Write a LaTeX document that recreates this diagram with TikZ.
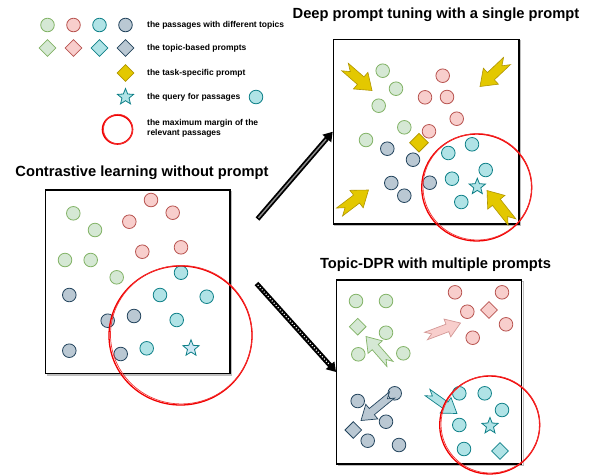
\documentclass[tikz,border=0pt]{standalone}
\usepackage{fontspec}
\setmainfont{Liberation Sans}
\usetikzlibrary{shapes.geometric,arrows.meta,calc}
\definecolor{gfill}{HTML}{D5E8D4}\definecolor{gline}{HTML}{82B366}
\definecolor{rfill}{HTML}{F8CECC}\definecolor{rline}{HTML}{B85450}
\definecolor{cfill}{HTML}{B0E3E6}\definecolor{cline}{HTML}{0E8088}
\definecolor{dfill}{HTML}{BAC8D3}\definecolor{dline}{HTML}{23445D}
\definecolor{goldf}{HTML}{E3C800}\definecolor{goldl}{HTML}{B09500}
\definecolor{starf}{HTML}{CFE8F5}
\definecolor{mred}{HTML}{F00000}
\tikzset{
  pc/.style={circle,minimum size=13.6pt,inner sep=0pt,line width=0.8pt},
  gc/.style={pc,draw=gline,fill=gfill},
  rc/.style={pc,draw=rline,fill=rfill},
  cc/.style={pc,draw=cline,fill=cfill},
  dc/.style={pc,draw=dline,fill=dfill},
  pd/.style={diamond,minimum size=17pt,inner sep=0pt,line width=0.8pt},
  gd/.style={pd,draw=gline,fill=gfill},
  rd/.style={pd,draw=rline,fill=rfill},
  cd/.style={pd,draw=cline,fill=cfill},
  dd/.style={pd,draw=dline,fill=dfill},
  yd/.style={pd,draw=goldl,fill=goldf},
  qstar/.style={star,star points=5,star point ratio=2.3,minimum size=17pt,inner sep=0pt,draw=cline,line width=0.8pt,fill=cfill},
  box/.style={draw=black,line width=1.3pt,fill=white,inner sep=0pt,
    preaction={draw=black!25,line width=1.6pt,transform canvas={shift={(1.6,1.6)}}}},
  legtxt/.style={anchor=west,inner sep=0pt,font=\fontsize{8.5}{10.5}\selectfont\bfseries,align=left},
  ttl/.style={inner sep=0pt,font=\fontsize{14.7}{17}\selectfont\bfseries},
  margin/.style={draw=mred,line width=1.3pt},
  marginb/.style={draw=mred!80,line width=0.7pt},
  goldarr/.style={draw=goldl,fill=goldf,line width=0.6pt},
  garr/.style={draw=gline,fill=gfill,line width=0.7pt},
  rarr/.style={draw=rline!60,fill=rfill,line width=0.7pt},
  darr/.style={draw=dline,fill=dfill,line width=0.7pt},
  carr/.style={draw=cline,fill=cfill,line width=0.7pt},
}
\newcommand\blockarr[9]{%
  \pgfmathsetmacro\baang{atan2(-(#5-#3),#4-#2)}%
  \pgfmathsetmacro\balen{veclen(#4-#2,#5-#3)}%
  \begin{scope}[shift={(#2,#3)},rotate=\baang]
    \draw[#1] (0,-#6) -- (\balen-#8,-#6) -- (\balen-#8,-#7) -- (\balen,0)
      -- (\balen-#8,#7) -- (\balen-#8,#6) -- (0,#6) -- (#9,0) -- cycle;
  \end{scope}}
\begin{document}
\begin{tikzpicture}[x=1pt,y=-1pt]
\useasboundingbox (0,0) rectangle (592,475);
% ---------------- legend
\node[gc] (lg1) at (47.5,25) {};
\node[rc] (lg2) at (73.5,25) {};
\node[cc] (lg3) at (99.5,25) {};
\node[dc] (lg4) at (125.5,25) {};
\node[gd] (ld1) at (47.5,48) {};
\node[rd] (ld2) at (73.5,48) {};
\node[cd] (ld3) at (99.5,48) {};
\node[dd] (ld4) at (125.5,48) {};
\node[yd] (ld5) at (125.5,73) {};
\node[qstar] (lst) at (125.5,97) {};
\node[cc] (lqc) at (256,97) {};
\node[circle,inner sep=0pt,minimum size=1pt] (lrc) at (117.5,129.5) {};
\draw[margin,line width=1.6pt] (lrc) ellipse (15 and 14.5);
\draw[marginb] ([shift={(0.6,-0.4)}]lrc) ellipse (14.6 and 14.8);
\node[legtxt] (t1) at (147,25) {the passages with different topics};
\node[legtxt] (t2) at (147,48) {the topic-based prompts};
\node[legtxt] (t3) at (147,73) {the task-specific prompt};
\node[legtxt] (t4) at (147,97) {the query for passages};
\node[legtxt] (t5) at (147,128.3) {the maximum margin of the\\relevant passages};
% ---------------- titles
\node[ttl] (ttop) at (436,15) {Deep prompt tuning with a single prompt};
\node[ttl] (tleft) at (142,173) {Contrastive learning without prompt};
\node[ttl] (tbot) at (435.5,265) {Topic-DPR with multiple prompts};
% ---------------- boxes
\node[box,minimum width=184.3pt,minimum height=183.3pt] (lbox) at (137.9,281.7) {};
\node[box,minimum width=185.7pt,minimum height=184.7pt] (tbox) at (426.2,131.7) {};
\node[box,minimum width=185pt,minimum height=184pt] (bbox) at (429.2,372) {};
% ---------------- left box
\foreach \x/\y [count=\i] in {73.3/213.3,95/230,65/260,90.7/260,116.7/277.3}
  \node[gc] (lgA\i) at (\x,\y) {};
\foreach \x/\y [count=\i] in {151/200,172.7/212.7,129.3/221.7,142.3/251.7,181/247.3}
  \node[rc] (lrA\i) at (\x,\y) {};
\foreach \x/\y [count=\i] in {181/272.7,160/295,206.7/296.7,176.7/320,146.7/348.3}
  \node[cc] (lcA\i) at (\x,\y) {};
\foreach \x/\y [count=\i] in {69.3/295,107.7/320.7,134/316,69.3/350.7,120.7/354}
  \node[dc] (ldA\i) at (\x,\y) {};
\node[qstar,fill=starf] (lsA) at (191,348.3) {};
\coordinate (lm) at (180.5,335.5);
\draw[margin] (lm) ellipse (71.5 and 69.5);
\draw[marginb] ([shift={(0.8,-0.8)}]lm) ellipse (70.8 and 69.2);
% ---------------- top-right box
\foreach \x/\y [count=\i] in {382.7/70.7,396/88.7,378.7/105.7,404.3/127.3,366/140}
  \node[gc] (tgA\i) at (\x,\y) {};
\foreach \x/\y [count=\i] in {442.7/75.7,425/97.3,447/97,456.7/118.7,429/131.3}
  \node[rc] (trA\i) at (\x,\y) {};
\foreach \x/\y [count=\i] in {472/144.3,448.3/153,485.7/170,452/178.7,461.3/202}
  \node[cc] (tcA\i) at (\x,\y) {};
\foreach \x/\y [count=\i] in {387.3/148.7,413/159.7,391.3/183,404.3/195.7,429.7/182.7}
  \node[dc] (tdA\i) at (\x,\y) {};
\node[yd,minimum size=19pt] (tyd) at (419,142.7) {};
\node[qstar] (tsA) at (477.3,186.7) {};
\blockarr{goldarr}{345}{67}{372}{90.5}{5}{11}{15}{7}
\blockarr{goldarr}{507}{61}{480}{86.5}{5}{11}{15}{7}
\blockarr{goldarr}{339.5}{212}{368.5}{190}{5}{11}{15}{7}
\blockarr{goldarr}{512}{222}{487}{190.5}{5}{11}{15}{7}
\coordinate (tm) at (476.7,187.5);
\draw[margin] (tm) ellipse (55 and 53.5);
\draw[marginb] ([shift={(0.7,-0.7)}]tm) ellipse (54.4 and 53.2);
% ---------------- bottom-right box
\foreach \x/\y [count=\i] in {356/301,386/301,386/332.7,358.3/354.3,403.3/353.3}
  \node[gc] (bgA\i) at (\x,\y) {};
\foreach \x/\y [count=\i] in {455/292.3,502/292.3,467.3/311.7,506/324.3,472.7/337.7}
  \node[rc] (brA\i) at (\x,\y) {};
\foreach \x/\y [count=\i] in {459.3/393.3,484.7/393.3,502/410,459.3/425,464/449}
  \node[cc] (bcA\i) at (\x,\y) {};
\foreach \x/\y [count=\i] in {357.7/401,394.7/393.3,386/421.7,367.7/440.7,399/445}
  \node[dc] (bdA\i) at (\x,\y) {};
\node[gd] (bgd) at (357.7,326.7) {};
\node[rd] (brd) at (489,310) {};
\node[dd] (bdd) at (353.3,430) {};
\node[cd] (bcd) at (500,451) {};
\node[qstar] (bsA) at (490,426) {};
\blockarr{garr}{390}{364}{366}{336.5}{4}{9.5}{14}{6}
\blockarr{rarr}{426}{336}{460.5}{323}{4}{9.5}{14}{6}
\blockarr{darr}{392}{395}{361}{420.5}{4}{9.5}{14}{6}
\blockarr{carr}{427.5}{392.5}{457}{413.5}{4}{9.5}{14}{6}
\coordinate (bm) at (489.7,425);
\draw[margin] (bm) ellipse (50 and 49);
\draw[marginb] ([shift={(0.7,-0.7)}]bm) ellipse (49.4 and 48.7);
% ---------------- big arrows
\coordinate (a1s) at (257.5,219);
\coordinate (a2s) at (256.5,283.5);
\draw[black,line width=5pt,-{Triangle[length=9pt,width=11pt]}] (a1s) -- (tbox.west);
\draw[black!45,line width=1.4pt,shorten >=10pt,shorten <=1.5pt] (a1s) -- (tbox.west);
\draw[black,line width=5pt,-{Triangle[length=9pt,width=11pt]}] (a2s) -- (bbox.west);
\draw[white,line width=1.2pt,dash pattern=on 1pt off 2pt,shorten >=10pt,shorten <=2pt] (a2s) -- (bbox.west);
\end{tikzpicture}
\end{document}
